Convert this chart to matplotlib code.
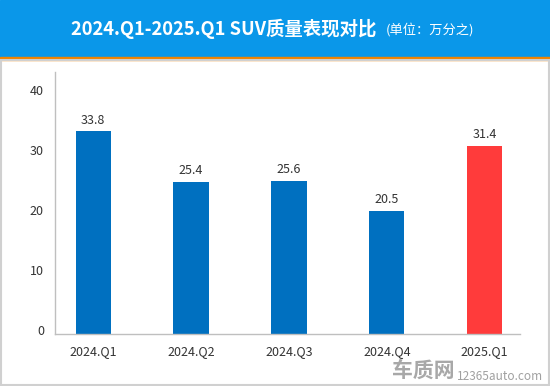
import matplotlib.pyplot as plt
import matplotlib.transforms as mtransforms
from matplotlib.patches import Rectangle

plt.rcParams['font.family'] = ['Noto Sans CJK SC', 'DejaVu Sans']

# 数据
quarters = ['2024.Q1', '2024.Q2', '2024.Q3', '2024.Q4', '2025.Q1']
values = [33.8, 25.4, 25.6, 20.5, 31.4]
bar_colors = ['#0070C0', '#0070C0', '#0070C0', '#0070C0', '#FF3B3B']
yticks = [0, 10, 20, 30, 40]

fig = plt.figure(figsize=(5.5, 3.86), dpi=100)

# cabeçalho azul + linha laranja
fig.patches.append(Rectangle((0, 1 - 57 / 386), 1, 57 / 386, transform=fig.transFigure,
                             color='#0A97E9', zorder=0))
fig.patches.append(Rectangle((0, 1 - 60 / 386), 1, 3 / 386, transform=fig.transFigure,
                             color='#F08300', zorder=0))
# borda cinza
fig.patches.append(Rectangle((0.002, 0.002), 0.996, 1 - 60 / 386 - 0.002, transform=fig.transFigure,
                             fill=False, edgecolor='#D0D0D0', lw=1.5, zorder=0))

fig.text(71 / 550, 1 - 29 / 386, '2024.Q1-2025.Q1 SUV质量表现对比', color='white',
         fontsize=13.2, fontweight='bold', va='center', ha='left')
fig.text(386 / 550, 1 - 30 / 386, '(单位：万分之)', color='white', fontsize=9.5,
         va='center', ha='left')

ax = fig.add_axes([55 / 550, 1 - 334 / 386, 465 / 550, 262 / 386])
x = range(len(quarters))
bars = ax.bar(x, values, width=0.36, color=bar_colors)
for xi, v in zip(x, values):
    ax.text(xi, v + 0.8, f'{v}', ha='center', va='bottom', fontsize=9, color='#333333')

ax.set_xlim(-0.39, 4.36)
ax.set_ylim(0, 43.7)
ax.set_yticks(yticks)
ax.set_xticks(list(x))
ax.set_xticklabels(quarters)
ax.tick_params(length=0, labelsize=9, colors='#333333')
ax.tick_params(axis='y', pad=8)
ax.tick_params(axis='x', pad=8)
# rótulos do eixo y um pouco acima
shift = mtransforms.ScaledTranslation(0, 4 / 100, fig.dpi_scale_trans)
for lbl in ax.get_yticklabels():
    lbl.set_transform(lbl.get_transform() + shift)
for s in ['top', 'right']:
    ax.spines[s].set_visible(False)
for s in ['left', 'bottom']:
    ax.spines[s].set_color('#BFBFBF')
    ax.spines[s].set_linewidth(1)

# marca d'água
fig.text(392 / 550, 1 - 370 / 386, '车质网', color='#A8A8A8', fontsize=15,
         fontweight='bold', va='center', ha='left')
fig.text(457 / 550, 1 - 376 / 386, '12365auto.com', color='#A0A0A0', fontsize=8.5,
         va='center', ha='left')

fig.savefig('out.png', dpi=100)
